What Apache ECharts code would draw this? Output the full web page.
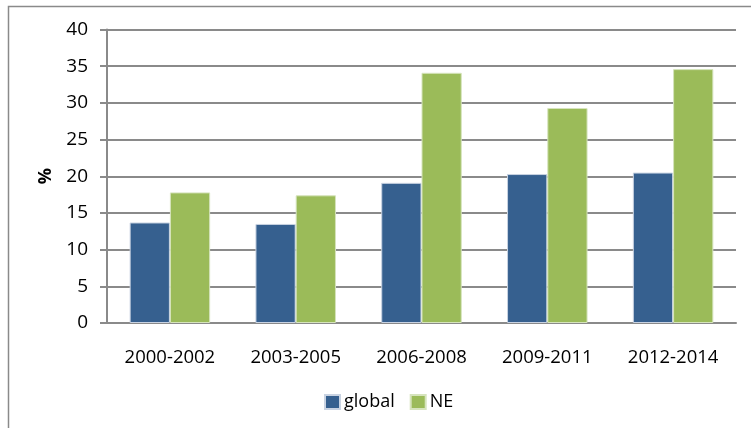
<!DOCTYPE html>
<html>
<head>
<meta charset="utf-8">
<script src="https://cdn.jsdelivr.net/npm/echarts@6/dist/echarts.min.js"></script>
<style>
  html, body { margin: 0; padding: 0; background: #fff; }
  #chart { width: 751px; height: 428px; }
</style>
</head>
<body>
<div id="chart"></div>
<script>
var periods = ['2000-2002', '2003-2005', '2006-2008', '2009-2011', '2012-2014'];
var globalVals = [13.7, 13.5, 19.1, 20.3, 20.5];
var neVals = [17.8, 17.4, 34.1, 29.3, 34.6];

var fontFam = '"Open Sans", "Liberation Sans", sans-serif';
var gridColor = '#8a8a8a';

var chart = echarts.init(document.getElementById('chart'));
chart.setOption({
    animation: false,
    graphic: [
        {
            type: 'rect',
            shape: { x: 8.5, y: 6.5, width: 800, height: 500 },
            style: { fill: 'none', stroke: gridColor, lineWidth: 1.5 },
            silent: true
        }
    ],
    grid: {
        left: 107,
        right: 15,
        top: 29.5,
        bottom: 105
    },
    legend: {
        left: 319,
        top: 388,
        itemWidth: 15,
        itemHeight: 14,
        itemGap: 15,
        icon: 'rect',
        textStyle: { fontFamily: fontFam, fontSize: 18, color: '#000', padding: [0, 0, 0, -1] },
        data: ['global', 'NE']
    },
    xAxis: {
        type: 'category',
        data: periods,
        axisLine: { lineStyle: { color: gridColor, width: 2 } },
        axisTick: { show: false },
        axisLabel: { fontFamily: fontFam, fontSize: 18.5, color: '#000', margin: 25 }
    },
    yAxis: {
        type: 'value',
        min: 0,
        max: 40,
        interval: 5,
        name: '%',
        nameLocation: 'middle',
        nameGap: 50,
        nameRotate: 90,
        nameTextStyle: { fontFamily: fontFam, fontSize: 18, fontWeight: 'bold', color: '#000' },
        axisLine: { show: true, lineStyle: { color: gridColor, width: 2 } },
        axisTick: { show: true, inside: false, length: 7, lineStyle: { color: gridColor, width: 2 } },
        splitLine: { lineStyle: { color: gridColor, width: 2 } },
        axisLabel: { fontFamily: fontFam, fontSize: 19, color: '#000', margin: 19 }
    },
    series: [
        {
            name: 'global',
            type: 'bar',
            data: globalVals,
            barGap: '0%',
            barCategoryGap: '36%',
            itemStyle: { color: '#36608f', borderColor: '#c9d3e2', borderWidth: 1 }
        },
        {
            name: 'NE',
            type: 'bar',
            data: neVals,
            itemStyle: { color: '#9bbb59', borderColor: '#d6e4bd', borderWidth: 1 }
        }
    ]
});
</script>
</body>
</html>
